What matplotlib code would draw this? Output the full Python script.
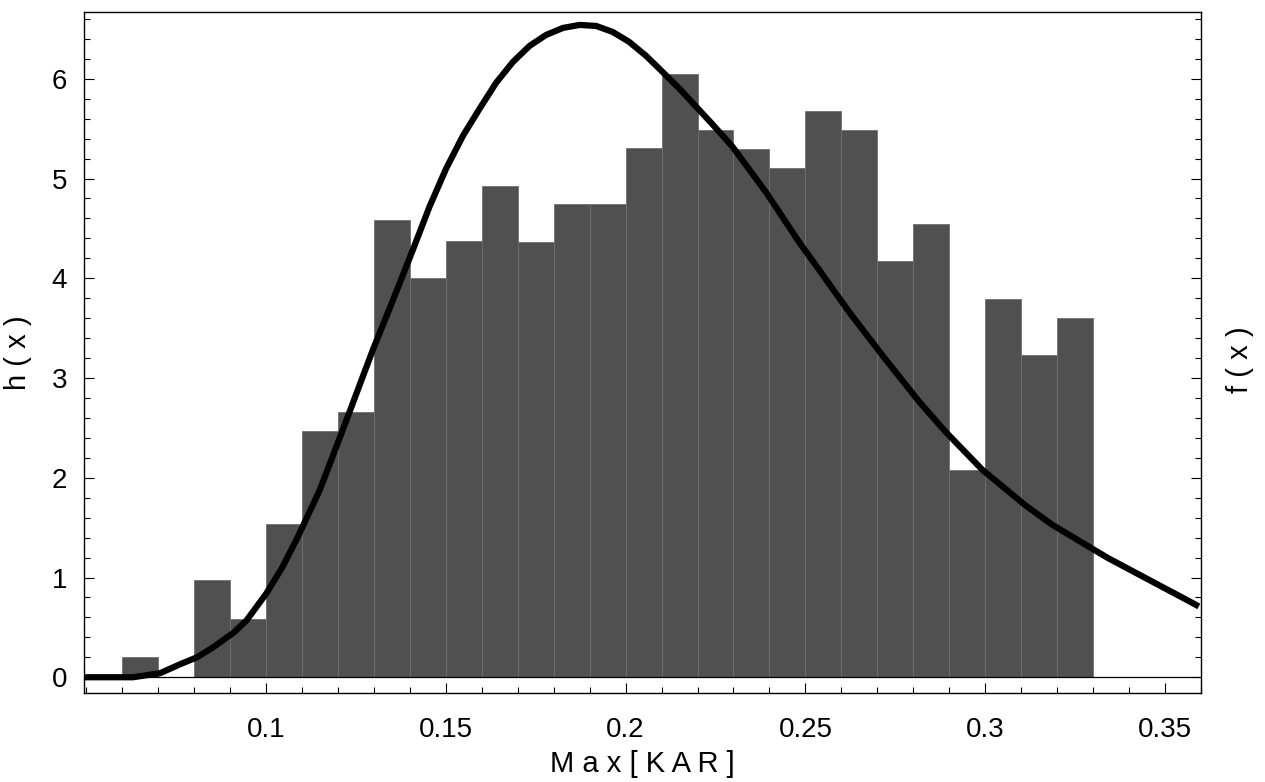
import numpy as np
import matplotlib
matplotlib.use('Agg')
import matplotlib.pyplot as plt
from matplotlib.ticker import MultipleLocator

plt.rcParams['font.family'] = ['Liberation Sans', 'DejaVu Sans']

# histogram: left bin edges (width 0.01) and heights h(x)
bin_left = [0.06, 0.07, 0.08, 0.09, 0.10, 0.11, 0.12, 0.13, 0.14, 0.15,
            0.16, 0.17, 0.18, 0.19, 0.20, 0.21, 0.22, 0.23, 0.24, 0.25,
            0.26, 0.27, 0.28, 0.29, 0.30, 0.31, 0.32]
bin_height = [0.20, 0.0, 0.97, 0.58, 1.54, 2.47, 2.66, 4.58, 4.00, 4.37,
              4.93, 4.36, 4.74, 4.74, 5.31, 6.05, 5.49, 5.30, 5.11, 5.68,
              5.49, 4.17, 4.54, 2.08, 3.79, 3.23, 3.60]
bin_width = 0.01

# fitted density f(x)
curve_x = [0.0494, 0.056, 0.063, 0.0705, 0.0761, 0.0808, 0.0853, 0.0911,
           0.0946, 0.1001, 0.1045, 0.1085, 0.1150, 0.1186, 0.1224, 0.1298,
           0.1353, 0.1409, 0.1455, 0.1501, 0.1548, 0.1594, 0.1640, 0.1687,
           0.1733, 0.1779, 0.1826, 0.1872, 0.1918, 0.1964, 0.2010, 0.2057,
           0.2094, 0.2150, 0.2186, 0.2240, 0.2297, 0.2391, 0.2483, 0.2539,
           0.2622, 0.2720, 0.2817, 0.2890, 0.2992, 0.3113, 0.3186, 0.3297,
           0.3344, 0.3464, 0.3558, 0.3594]
curve_y = [0.0, 0.0, 0.0, 0.04, 0.13, 0.20, 0.30, 0.45,
           0.57, 0.84, 1.10, 1.38, 1.88, 2.22, 2.58, 3.29,
           3.78, 4.29, 4.72, 5.10, 5.43, 5.70, 5.96, 6.17,
           6.33, 6.44, 6.51, 6.54, 6.53, 6.47, 6.37, 6.23,
           6.10, 5.90, 5.76, 5.55, 5.32, 4.86, 4.36, 4.08,
           3.66, 3.20, 2.76, 2.46, 2.08, 1.72, 1.53, 1.29,
           1.19, 0.96, 0.78, 0.71]

fig = plt.figure(figsize=(12.65, 7.82), dpi=100)
ax = fig.add_axes([0.0664, 0.1138, 0.8830, 0.8709])

ax.bar(bin_left, bin_height, width=bin_width, align='edge',
       color='#505050', edgecolor='#707070', linewidth=0.6, zorder=2)
ax.axhline(0, color='black', linewidth=0.9, zorder=3)
ax.plot(curve_x, curve_y, color='black', linewidth=4.5,
        solid_capstyle='butt', solid_joinstyle='round', zorder=4)

ax.set_xlim(0.0494, 0.36)
ax.set_ylim(-0.158, 6.67)

ax.xaxis.set_minor_locator(MultipleLocator(0.01))
ax.yaxis.set_major_locator(MultipleLocator(1))
ax.yaxis.set_minor_locator(MultipleLocator(0.2))
ax.set_xticks([0.1, 0.15, 0.2, 0.25, 0.3, 0.35])
ax.set_xticklabels(['0.1', '0.15', '0.2', '0.25', '0.3', '0.35'])

ax.tick_params(axis='both', which='both', direction='in', labelsize=20,
               width=0.8, top=False, right=True)
ax.tick_params(axis='both', which='major', length=7)
ax.tick_params(axis='both', which='minor', length=4)
ax.tick_params(axis='x', pad=17)
ax.tick_params(axis='y', pad=12)

for s in ax.spines.values():
    s.set_linewidth(1.0)

ax.set_xlabel('M a x [ K A R ]', fontsize=21, labelpad=5)
ax.set_ylabel('h ( x )', fontsize=21, labelpad=14)
fig.text(0.980, 0.54, 'f ( x )', rotation=90, fontsize=21,
         ha='center', va='center')

fig.savefig('out.png', dpi=100)
